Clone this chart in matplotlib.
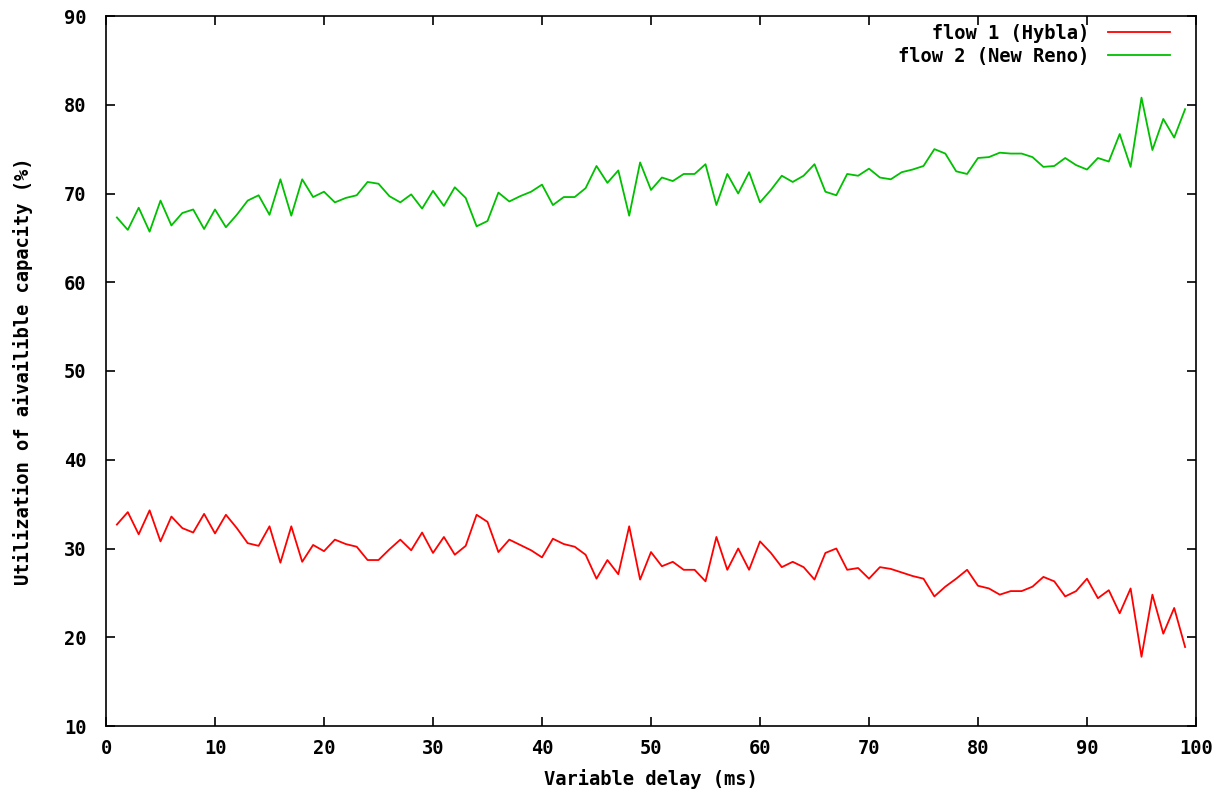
import numpy as np
import matplotlib
matplotlib.use('Agg')
import matplotlib.pyplot as plt

# variable delay (ms)
delay = list(range(1, 100))

# flow 1 (Hybla), utilization in %
hybla = [
    32.7, 34.1, 31.6, 34.3, 30.8, 33.6, 32.3, 31.8, 33.9, 31.7,
    33.8, 32.3, 30.6, 30.3, 32.5, 28.4, 32.5, 28.5, 30.4, 29.7,
    31.0, 30.5, 30.2, 28.7, 28.7, 29.9, 31.0, 29.8, 31.8, 29.5,
    31.3, 29.3, 30.3, 33.8, 33.0, 29.6, 31.0, 30.4, 29.8, 29.0,
    31.1, 30.5, 30.2, 29.3, 26.6, 28.7, 27.1, 32.5, 26.5, 29.6,
    28.0, 28.5, 27.6, 27.6, 26.3, 31.3, 27.6, 30.0, 27.6, 30.8,
    29.5, 27.9, 28.5, 27.9, 26.5, 29.5, 30.0, 27.6, 27.8, 26.6,
    27.9, 27.7, 27.3, 26.9, 26.6, 24.6, 25.7, 26.6, 27.6, 25.8,
    25.5, 24.8, 25.2, 25.2, 25.7, 26.8, 26.3, 24.6, 25.2, 26.6,
    24.4, 25.3, 22.7, 25.5, 17.8, 24.8, 20.4, 23.3, 18.9,
]

# flow 2 (New Reno), utilization in %
newreno = [
    67.3, 65.9, 68.4, 65.7, 69.2, 66.4, 67.8, 68.2, 66.0, 68.2,
    66.2, 67.6, 69.2, 69.8, 67.6, 71.6, 67.5, 71.6, 69.6, 70.2,
    69.0, 69.5, 69.8, 71.3, 71.1, 69.7, 69.0, 69.9, 68.3, 70.3,
    68.6, 70.7, 69.5, 66.3, 66.9, 70.1, 69.1, 69.7, 70.2, 71.0,
    68.7, 69.6, 69.6, 70.6, 73.1, 71.2, 72.6, 67.5, 73.5, 70.4,
    71.8, 71.4, 72.2, 72.2, 73.3, 68.7, 72.2, 70.0, 72.4, 69.0,
    70.4, 72.0, 71.3, 72.0, 73.3, 70.2, 69.8, 72.2, 72.0, 72.8,
    71.8, 71.6, 72.4, 72.7, 73.1, 75.0, 74.5, 72.5, 72.2, 74.0,
    74.1, 74.6, 74.5, 74.5, 74.1, 73.0, 73.1, 74.0, 73.2, 72.7,
    74.0, 73.6, 76.7, 73.0, 80.8, 74.9, 78.4, 76.3, 79.5,
]

labels = ['   flow 1 (Hybla)', 'flow 2 (New Reno)']
xticks = list(range(0, 101, 10))
yticks = list(range(10, 91, 10))

font = {'family': 'DejaVu Sans Mono', 'weight': 'bold', 'size': 13.5}


def main():
    fig = plt.figure(figsize=(12.31, 7.91), dpi=100)
    ax = fig.add_axes([106 / 1231, 1 - 726 / 791, 1090 / 1231, 710 / 791])

    ax.plot(delay, hybla, color='#ff0000', lw=1.3, label=labels[0])
    ax.plot(delay, newreno, color='#00c000', lw=1.3, label=labels[1])

    ax.set_xlim(0, 100)
    ax.set_ylim(10, 90)
    ax.set_xticks(xticks)
    ax.set_yticks(yticks)
    ax.set_xticklabels([str(t) for t in xticks], fontdict=font)
    ax.set_yticklabels([str(t) for t in yticks], fontdict=font)
    ax.tick_params(axis='x', direction='in', length=6.5, width=1.2, top=True, pad=9)
    ax.tick_params(axis='y', direction='in', length=6.5, width=1.2, right=True, pad=14)
    for s in ax.spines.values():
        s.set_linewidth(1.2)

    ax.set_xlabel('Variable delay (ms)', fontdict=font, labelpad=8)
    ax.set_ylabel('Utilization of aivailible capacity (%)', fontdict=font, labelpad=22)

    ax.legend(loc='upper right', bbox_to_anchor=(0.976, 0.989), frameon=False,
              markerfirst=False, prop=font, handlelength=3.3, handletextpad=1.0,
              labelspacing=0.2, borderaxespad=0, borderpad=0)

    fig.savefig('out.png', dpi=100)


if __name__ == '__main__':
    main()
